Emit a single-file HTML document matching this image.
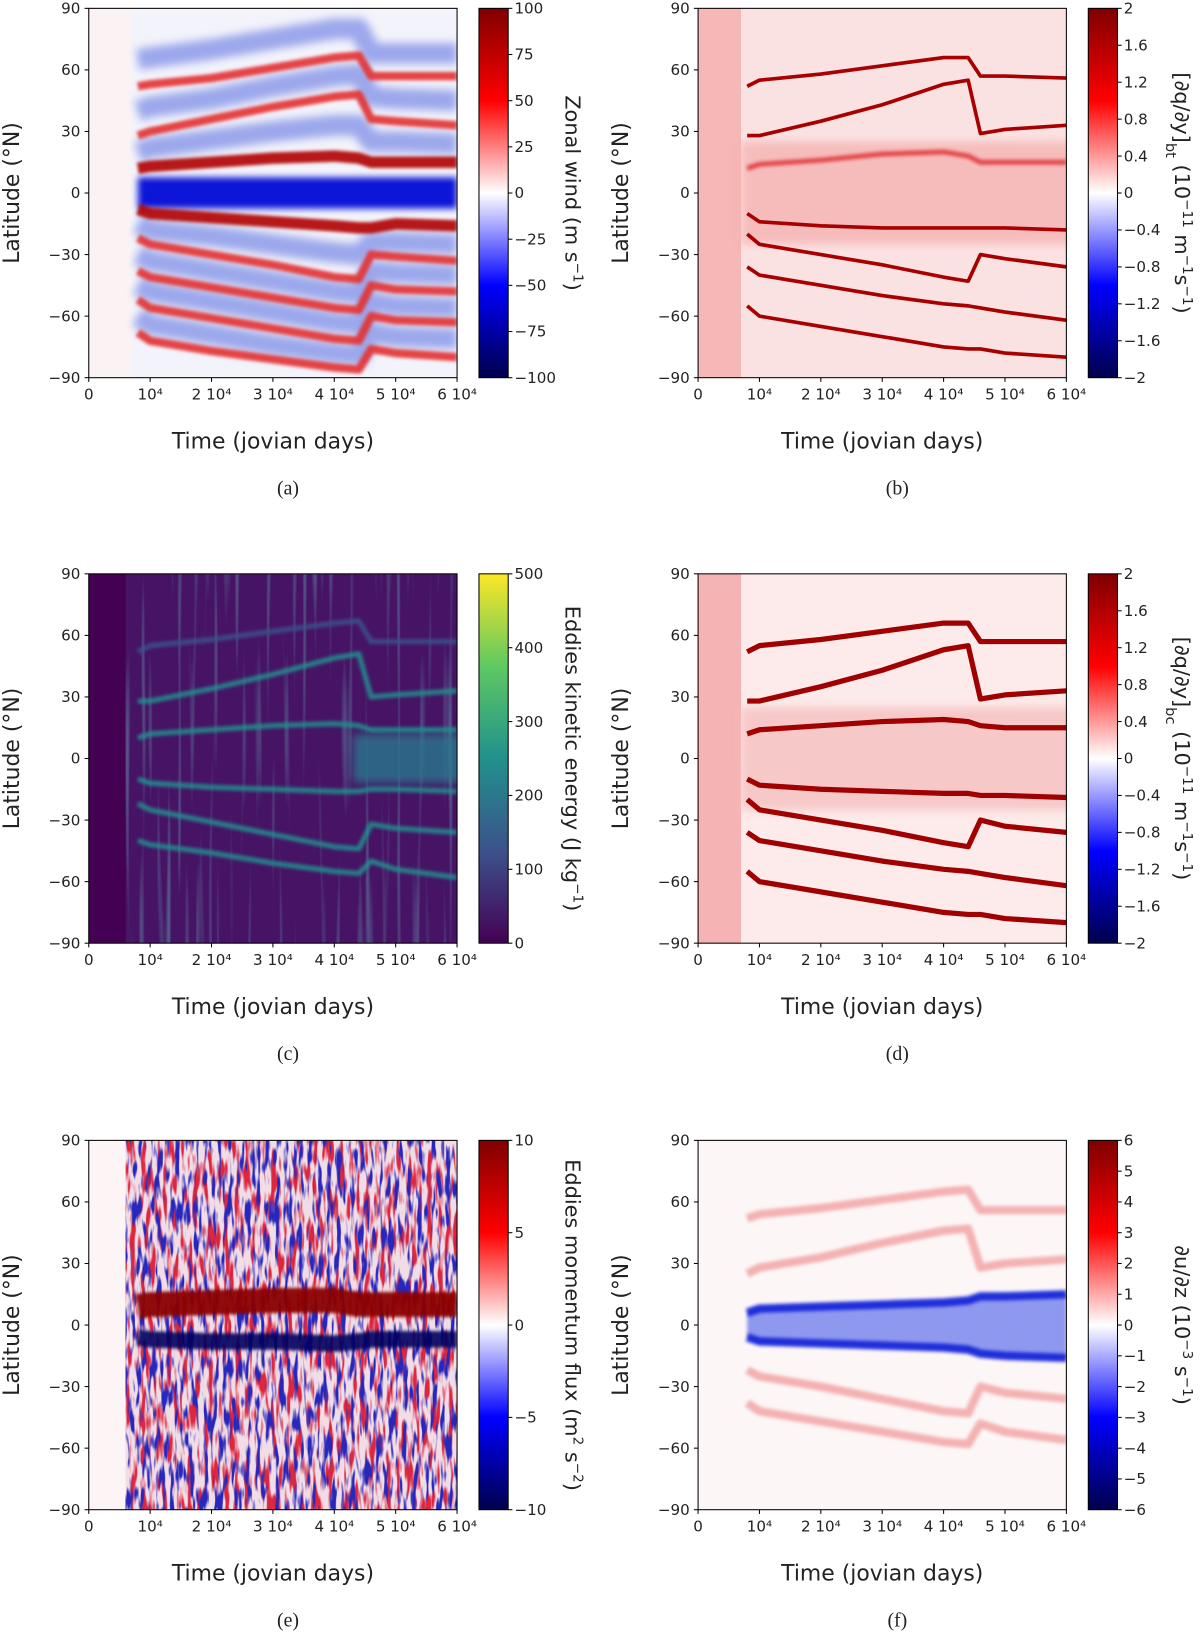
<!DOCTYPE html>
<html><head><meta charset="utf-8"><style>
html,body{margin:0;padding:0;background:#fff}
svg{display:block}
text{font-family:"DejaVu Sans","Liberation Sans",sans-serif;fill:#222}
.cap{font-family:"Liberation Serif",serif;font-size:19px}
</style></head><body>
<svg id="fig" xmlns="http://www.w3.org/2000/svg" width="1200" height="1637" viewBox="0 0 1150 1569">
<defs>
<linearGradient id="seis" x1="0" y1="0" x2="0" y2="1">
<stop offset="0" stop-color="#7f0000"/><stop offset="0.25" stop-color="#ff0000"/><stop offset="0.5" stop-color="#ffffff"/><stop offset="0.75" stop-color="#0000ff"/><stop offset="1" stop-color="#00004c"/></linearGradient>
<linearGradient id="viri" x1="0" y1="0" x2="0" y2="1">
<stop offset="0" stop-color="#fde725"/><stop offset="0.25" stop-color="#5ec962"/><stop offset="0.5" stop-color="#21918c"/><stop offset="0.75" stop-color="#3b528b"/><stop offset="1" stop-color="#440154"/></linearGradient>
<filter id="blur2" filterUnits="userSpaceOnUse" x="0" y="0" width="1150" height="1569"><feGaussianBlur stdDeviation="1.5"/></filter>
<filter id="blur3" filterUnits="userSpaceOnUse" x="0" y="0" width="1150" height="1569"><feGaussianBlur stdDeviation="3"/></filter>
<filter id="blur4" filterUnits="userSpaceOnUse" x="0" y="0" width="1150" height="1569"><feGaussianBlur stdDeviation="4"/></filter>
<filter id="noiseR" x="0" y="0" width="1" height="1"><feTurbulence type="fractalNoise" baseFrequency="0.2 0.035" numOctaves="2" seed="3"/><feColorMatrix values="0 0 0 0 0.72  0 0 0 0 0.02  0 0 0 0 0.05  6 0 0 0 -2.9"/></filter>
<filter id="noiseB" x="0" y="0" width="1" height="1"><feTurbulence type="fractalNoise" baseFrequency="0.22 0.04" numOctaves="2" seed="9"/><feColorMatrix values="0 0 0 0 0.02  0 0 0 0 0.02  0 0 0 0 0.5  0 6 0 0 -3.0"/></filter>
<filter id="streak" x="0" y="0" width="1" height="1"><feTurbulence type="fractalNoise" baseFrequency="0.2 0.005" numOctaves="1" seed="5"/><feColorMatrix values="0 0 0 0 0.15  0 0 0 0 0.55  0 0 0 0 0.55  3 0 0 0 -1.7"/></filter>
</defs>
</svg>
<script>
// ---- shared axes data ----
const timeTicks = [0,1,2,3,4,5,6];
const timeLabels = ["0","10⁴","2 10⁴","3 10⁴","4 10⁴","5 10⁴","6 10⁴"];
const latTicks = [90,60,30,0,-30,-60,-90];
const T = [0.8,1,2,3,4,4.4,4.6,5,6];
// panel a (zonal wind)
const aRed = [
 [52,53,56,61,66,67,57,57,57],
 [28,30,36,42,47,48,36,35,33],
 [12,13,15,17,18,17,15,15,15],
 [-8,-10,-12,-14,-16,-17,-17,-15,-16],
 [-22,-25,-30,-35,-41,-42,-30,-31,-33],
 [-38,-41,-46,-51,-56,-57,-45,-47,-48],
 [-52,-56,-61,-66,-71,-72,-60,-62,-63],
 [-68,-72,-77,-81,-85,-86,-76,-78,-80]];
const aBlue = [
 [40,42,46,52,57,58,47,46,45],
 [20,22,26,30,33,33,25,25,24],
 [-15,-18,-21,-25,-29,-30,-24,-24,-25],
 [-30,-33,-38,-43,-48,-49,-38,-39,-40],
 [-45,-48,-53,-58,-63,-64,-53,-55,-56],
 [-60,-64,-69,-74,-78,-79,-68,-70,-71],
 [65,66,70,75,80,80,68,68,68]];
const aEq = [0,0,0,0,0,0,0,0,0];
// panel b / d (PV gradient tracks)
const bTracks = [
 [52,55,58,62,66,66,57,57,56],
 [28,28,35,43,53,55,29,31,33],
 [-10,-14,-16,-17,-17,-17,-17,-17,-18],
 [-20,-25,-30,-35,-41,-43,-30,-32,-36],
 [-36,-40,-45,-50,-54,-55,-56,-58,-62],
 [-55,-60,-65,-70,-75,-76,-76,-78,-80]];
const bLight = [[12,14,16,19,20,18,15,15,15]];
const dTracks = [
 [52,55,58,62,66,66,57,57,57],
 [28,28,35,43,53,55,29,31,33],
 [12,14,16,18,19,18,16,15,15],
 [-10,-13,-15,-16,-17,-17,-18,-18,-19],
 [-20,-25,-30,-35,-41,-43,-30,-33,-36],
 [-36,-40,-45,-50,-54,-55,-56,-58,-62],
 [-55,-60,-65,-70,-75,-76,-76,-78,-80]];
// panel c (eddy KE)
const cTracks = [
 [28,28,34,41,49,51,30,31,33],
 [10,12,14,16,17,16,14,14,14],
 [-10,-12,-14,-15,-16,-16,-15,-15,-16],
 [-22,-25,-31,-37,-43,-44,-32,-34,-36],
 [-40,-42,-46,-51,-55,-56,-50,-54,-58],
 [52,55,58,62,66,67,57,57,57]];
// panel e (momentum flux bands)
const eRed = [[9,10,11,12,12,10,10,10,10]];
const eBlue = [[-6,-7,-8,-8,-9,-8,-7,-7,-7]];
// panel f (shear)
const fBlueN = [6,8,9,10,11,12,14,14,15];
const fBlueS = [-6,-8,-9,-10,-11,-12,-14,-15,-16];
const fRed = [
 [25,28,33,40,46,47,28,30,32],
 [-22,-25,-30,-36,-42,-43,-30,-33,-36],
 [-38,-42,-47,-52,-57,-58,-48,-52,-56],
 [52,54,57,61,65,66,56,56,56]];
// colorbar ticks
const cbA = [100,75,50,25,0,-25,-50,-75,-100];
const cbB = [2,1.6,1.2,0.8,0.4,0,-0.4,-0.8,-1.2,-1.6,-2];
const cbC = [500,400,300,200,100,0];
const cbE = [10,5,0,-5,-10];
const cbF = [6,5,4,3,2,1,0,-1,-2,-3,-4,-5,-6];

const NS="http://www.w3.org/2000/svg";
const svg=document.getElementById('fig');
function mk(tag,attrs,parent){const e=document.createElementNS(NS,tag);for(const k in attrs)e.setAttribute(k,attrs[k]);(parent||svg).appendChild(e);return e;}
const W=353,H=354;

function panel(id,x0,y0,cfg){
  const g=mk('g',{});
  
  
  const X=t=>x0+t/6*W, Y=l=>y0+(90-l)/180*H;
  mk('clipPath',{id:'clip'+id},g).appendChild(document.createElementNS(NS,'rect'));
  const cr=g.querySelector('clipPath rect');cr.setAttribute('x',x0);cr.setAttribute('y',y0);cr.setAttribute('width',W);cr.setAttribute('height',H);
  const plot=mk('g',{'clip-path':'url(#clip'+id+')'},g);
  
  
  cfg.draw(plot,X,Y);
  const fr=mk('rect',{x:x0,y:y0,width:W,height:H,fill:'none',stroke:'#000','stroke-width':1},g);
  
  
  timeTicks.forEach((t,i)=>{
    mk('line',{x1:X(t),x2:X(t),y1:y0+H,y2:y0+H+4,stroke:'#000'},g);
    const tx=mk('text',{x:X(t),y:y0+H+21,'font-size':14.5,'text-anchor':'middle'},g);
    tx.textContent=timeLabels[i];
    
    
  });
  latTicks.forEach(l=>{
    mk('line',{x1:x0-4,x2:x0,y1:Y(l),y2:Y(l),stroke:'#000'},g);
    const tx=mk('text',{x:x0-8,y:Y(l)+5,'font-size':14.5,'text-anchor':'end'},g);
    tx.textContent=l==0?'0':(l<0?'−'+(-l):String(l));
    
    
  });
  const xl=mk('text',{x:x0+W/2,y:y0+H+68,'font-size':21,'text-anchor':'middle'},g);
  xl.textContent='Time (jovian days)';
  
  
  const yl=mk('text',{x:0,y:0,'font-size':21,'text-anchor':'middle',transform:`translate(${x0-67},${y0+H/2}) rotate(-90)`},g);
  yl.textContent='Latitude (°N)';
  
  
  const cx=x0+374;
  const cb=mk('rect',{x:cx,y:y0,width:28,height:H,fill:cfg.grad,stroke:'#000','stroke-width':1},g);
  
  
  const ticks=cfg.ticks,mx=ticks[0],mn=ticks[ticks.length-1];
  ticks.forEach(v=>{
    const yy=y0+(mx-v)/(mx-mn)*H;
    mk('line',{x1:cx+28,x2:cx+32,y1:yy,y2:yy,stroke:'#000'},g);
    const tx=mk('text',{x:cx+34,y:yy+5,'font-size':14.5},g);
    tx.textContent=v<0?'−'+(-v):String(v);
    
    
  });
  const cl=mk('text',{x:0,y:0,'font-size':20,'text-anchor':'middle',transform:`translate(${cx+83},${y0+H/2}) rotate(90)`},g);
  cl.innerHTML=cfg.label;
  
  
  const cp=mk('text',{x:x0+191,y:y0+466,'text-anchor':'middle',class:'cap'},g);
  cp.textContent='('+id+')';
  
  
}
function track(p,X,Y,lats,color,w,op,filt,name){
  const pts=T.map((t,i)=>X(t)+','+Y(lats[i])).join(' ');
  const e=mk('polyline',{points:pts,fill:'none',stroke:color,'stroke-width':w,'stroke-opacity':op,'stroke-linejoin':'round'},p);
  if(filt)e.setAttribute('filter','url(#'+filt+')');
  
  
}
const sup=s=>`<tspan baseline-shift="super" font-size="13">${s}</tspan>`;

panel('a',85,8,{grad:'url(#seis)',ticks:cbA,label:'Zonal wind (m s'+sup('−1')+')',draw:(p,X,Y)=>{
  mk('rect',{x:X(0),y:Y(90),width:W,height:H,fill:'#fbf3f3'},p);
  mk('rect',{x:X(0.7),y:Y(90),width:W,height:H,fill:'#f3f3fb'},p);
  aBlue.forEach(l=>track(p,X,Y,l,'#7f8fe6',20,0.75,'blur4','westward-band'));
  track(p,X,Y,aEq,'#0a14d8',30,1,'blur3','equatorial-jet');
  aRed.forEach((l,i)=>track(p,X,Y,l,(i==2||i==3)?'#b00000':'#e33030',(i==2||i==3)?11:8,0.9,'blur2','eastward-jet'));
}});
panel('b',669,8,{grad:'url(#seis)',ticks:cbB,label:'[∂q/∂y]'+`<tspan baseline-shift="sub" font-size="14">bt</tspan>`+' (10'+sup('−11')+' m'+sup('−1')+'s'+sup('−1')+')',draw:(p,X,Y)=>{
  mk('rect',{x:X(0),y:Y(90),width:W,height:H,fill:'#fbe2e2'},p);
  mk('rect',{x:X(0),y:Y(90),width:X(0.7)-X(0),height:H,fill:'#f6b7b7'},p);
  mk('rect',{x:X(0.7),y:Y(25),width:W,height:Y(-25)-Y(25),fill:'#f5b3b3',opacity:0.8,filter:'url(#blur4)'},p);
  bLight.forEach(l=>track(p,X,Y,l,'#e03030',5,0.8,'blur2','pv-light-track'));
  bTracks.forEach(l=>track(p,X,Y,l,'#a80000',3.5,1,'','pv-gradient-track'));
}});
panel('c',85,550,{grad:'url(#viri)',ticks:cbC,label:'Eddies kinetic energy (J kg'+sup('−1')+')',draw:(p,X,Y)=>{
  mk('rect',{x:X(0),y:Y(90),width:W,height:H,fill:'#440154'},p);
  mk('rect',{x:X(0.6),y:Y(90),width:X(6)-X(0.6),height:H,fill:'#471365'},p);
  mk('rect',{x:X(0.6),y:Y(90),width:X(6)-X(0.6),height:H,filter:'url(#streak)',opacity:0.6},p);
  mk('rect',{x:X(4.3),y:Y(12),width:X(6.2)-X(4.3),height:Y(-12)-Y(12),fill:'#2a788e',opacity:0.8,filter:'url(#blur4)'},p);
  cTracks.forEach((l,i)=>track(p,X,Y,l,i>=5?'#3b528b':'#21918c',5,0.85,'blur2','eddy-energy-track'));
}});
panel('d',669,550,{grad:'url(#seis)',ticks:cbB,label:'[∂q/∂y]'+`<tspan baseline-shift="sub" font-size="14">bc</tspan>`+' (10'+sup('−11')+' m'+sup('−1')+'s'+sup('−1')+')',draw:(p,X,Y)=>{
  mk('rect',{x:X(0),y:Y(90),width:W,height:H,fill:'#fdeaea'},p);
  mk('rect',{x:X(0),y:Y(90),width:X(0.7)-X(0),height:H,fill:'#f6b3b3'},p);
  mk('rect',{x:X(0.7),y:Y(25),width:W,height:Y(-25)-Y(25),fill:'#f5c0c0',opacity:0.8,filter:'url(#blur4)'},p);
  dTracks.forEach(l=>track(p,X,Y,l,'#a00000',5,1,'','pv-gradient-track'));
}});
panel('e',85,1093,{grad:'url(#seis)',ticks:cbE,label:'Eddies momentum flux (m'+sup('2')+' s'+sup('−2')+')',draw:(p,X,Y)=>{
  mk('rect',{x:X(0),y:Y(90),width:W,height:H,fill:'#fdf5f5'},p);
  mk('rect',{x:X(0.6),y:Y(90),width:X(6)-X(0.6),height:H,fill:'#f0dde6'},p);
  mk('rect',{x:X(0.6),y:Y(90),width:X(6)-X(0.6),height:H,filter:'url(#noiseR)'},p);
  mk('rect',{x:X(0.6),y:Y(90),width:X(6)-X(0.6),height:H,filter:'url(#noiseB)'},p);
  eRed.forEach(l=>track(p,X,Y,l,'#8a0000',24,0.95,'blur2','northward-flux-band'));
  eBlue.forEach(l=>track(p,X,Y,l,'#00005e',16,0.9,'blur2','southward-flux-band'));
}});
panel('f',669,1093,{grad:'url(#seis)',ticks:cbF,label:'∂u/∂z (10'+sup('−3')+' s'+sup('−1')+')',draw:(p,X,Y)=>{
  mk('rect',{x:X(0),y:Y(90),width:W,height:H,fill:'#fcf6f6'},p);
  fRed.forEach(l=>track(p,X,Y,l,'#f2a0a0',8,0.8,'blur2','shear-positive-band'));
  const poly=T.map((t,i)=>X(t)+','+Y(fBlueN[i])).concat(T.slice().reverse().map((t,i)=>X(t)+','+Y(fBlueS[T.length-1-i]))).join(' ');
  const bp=mk('polygon',{points:poly,fill:'#8e98ee',filter:'url(#blur2)'},p);
  
  
  track(p,X,Y,fBlueN,'#1020d8',8,0.9,'blur2','shear-edge-north');
  track(p,X,Y,fBlueS,'#1020d8',8,0.9,'blur2','shear-edge-south');
}});
</script>
</body></html>
